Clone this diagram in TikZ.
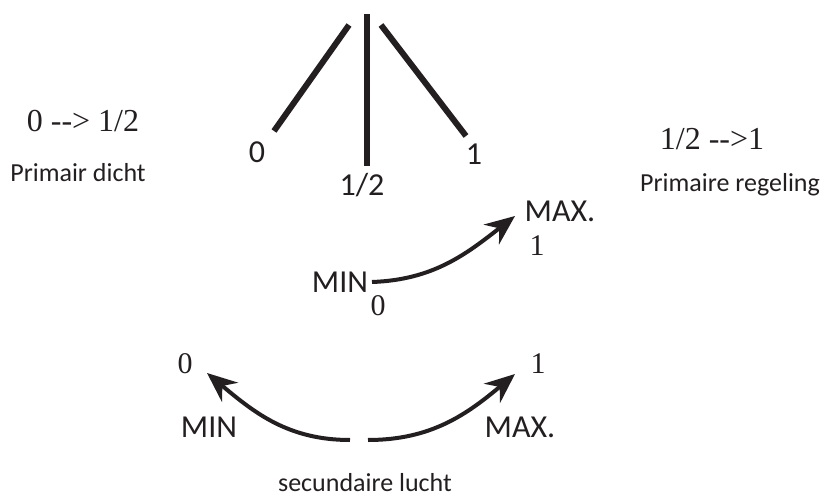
\documentclass[tikz,border=0pt]{standalone}
\usepackage{fontspec}
\setmainfont{Liberation Serif}
\setsansfont{Carlito}
\usetikzlibrary{arrows.meta}
\tikzset{>={Stealth[length=30pt,width=25pt,inset=10pt]}}
\definecolor{SchemaBlack}{HTML}{231F20}
\colorlet{InkBlack}{SchemaBlack}
\newcommand{\arrowdash}{-\kern0pt-\kern0pt>}
\tikzset{
  SansBig/.style={font=\sffamily\fontsize{32}{36}\selectfont, text=InkBlack, anchor=base, inner sep=0pt},
  SansSmall/.style={font=\sffamily\fontsize{26}{30}\selectfont, text=InkBlack, anchor=base, inner sep=0pt},
  SerifBig/.style={font=\rmfamily\fontsize{32}{36}\selectfont, text=InkBlack, anchor=base, inner sep=0pt},
  SerifSmall/.style={font=\rmfamily\fontsize{30}{34}\selectfont, text=InkBlack, anchor=base, inner sep=0pt},
  FlapLine/.style={InkBlack, line width=6pt},
  SwingArrow/.style={InkBlack, line width=4pt, ->}
}

\begin{document}
\begin{tikzpicture}[x=1pt,y=1pt]
  \useasboundingbox (0,0) rectangle (824,496);

  \coordinate (LeftTop) at (349,471);
  \coordinate (LeftEnd) at (274,365);
  \coordinate (MidTop) at (367,482);
  \coordinate (MidEnd) at (367,330);
  \coordinate (RightTop) at (381,471);
  \coordinate (RightEnd) at (466,360);
  \draw[FlapLine] (LeftTop) -- (LeftEnd);
  \draw[FlapLine] (MidTop) -- (MidEnd);
  \draw[FlapLine] (RightTop) -- (RightEnd);

  \node[SansBig] (flapzero) at (257,333) {0};
  \node[SansBig] (flaphalf) at (362,300) {1/2};
  \node[SansBig] (flapone) at (474,331) {1};

  \node[SerifBig] (leftrange) at (83,364) {0 \arrowdash{} 1/2};
  \node[SansSmall] (leftname) at (78,314) {Primair dicht};
  \node[SerifBig] (rightrange) at (712,346) {1/2 \arrowdash1};
  \node[SansSmall] (rightname) at (730,304) {Primaire regeling};

  \node[SansBig] (primmin) at (340,204) {MIN};
  \node[SerifSmall] (primzero) at (378,181) {0};
  \node[SansBig] (primmax) at (560,274) {MAX.};
  \node[SerifSmall] (primone) at (537,241) {1};
  \coordinate (PrimStart) at (372,214);
  \coordinate (PrimTip) at (515,280);
  \draw[SwingArrow] (PrimStart) to[out=2,in=218] (PrimTip);

  \node[SerifSmall] (seczero) at (185,123) {0};
  \node[SansBig] (secmin) at (209,59) {MIN};
  \node[SerifSmall] (secone) at (538,123) {1};
  \node[SansBig] (secmax) at (520,59) {MAX.};
  \node[SansSmall] (secname) at (365,5) {secundaire lucht};
  \coordinate (SecLeftStart) at (350,56);
  \coordinate (SecLeftTip) at (207,123);
  \coordinate (SecRightStart) at (368,56);
  \coordinate (SecRightTip) at (515,122);
  \draw[SwingArrow] (SecLeftStart) to[out=180,in=-40] (SecLeftTip);
  \draw[SwingArrow] (SecRightStart) to[out=0,in=220] (SecRightTip);
\end{tikzpicture}
\end{document}
